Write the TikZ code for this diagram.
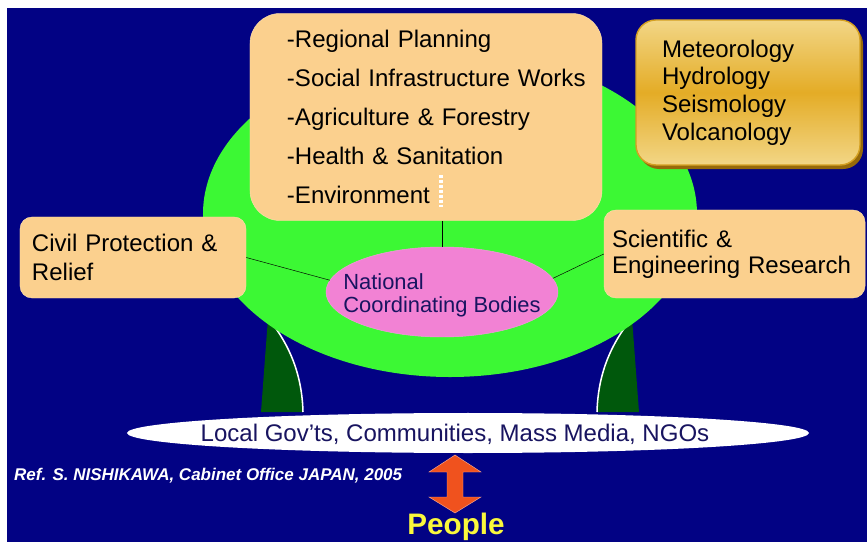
\documentclass[tikz,border=0pt]{standalone}
\usepackage{fontspec}
\setmainfont{Liberation Sans}
\usetikzlibrary{shapes.geometric, shadows, positioning}
\definecolor{navyBg}{RGB}{2,2,132}
\definecolor{blobGreen}{RGB}{60,248,52}
\definecolor{legGreen}{RGB}{0,88,12}
\definecolor{peach}{RGB}{251,208,142}
\definecolor{peachEdge}{RGB}{252,222,170}
\definecolor{goldTop}{RGB}{242,214,134}
\definecolor{goldMid}{RGB}{228,172,38}
\definecolor{goldEdge}{RGB}{212,160,34}
\definecolor{goldShade}{RGB}{150,105,10}
\definecolor{pinkBody}{RGB}{242,130,212}
\definecolor{inkBlue}{RGB}{24,20,96}
\definecolor{arrowRed}{RGB}{240,82,30}
\definecolor{peopleYellow}{RGB}{250,248,60}
\tikzset{
    peachBox/.style={rectangle, rounded corners=0.36cm, fill=peach, draw=peachEdge, thin, align=left, text=black},
    goldBox/.style={rectangle, rounded corners=0.6cm, top color=goldTop, bottom color=goldTop, middle color=goldMid, draw=goldEdge, line width=1.2pt, align=left, text=black,
        drop shadow={shadow xshift=0.09cm, shadow yshift=-0.12cm, fill=goldShade, opacity=1}},
    bodyEllipse/.style={ellipse, fill=pinkBody, draw=pinkBody!80!white, inner sep=0pt},
    linkLine/.style={draw=black, thin},
    legEdge/.style={draw=white, line width=1.3pt},
    dotMark/.style={draw=white, line width=2.6pt, dash pattern=on 2.6pt off 1.6pt},
}
\begin{document}
\begin{tikzpicture}[x=0.03cm, y=-0.03cm]

    % page and background
    \fill[white] (0,0) rectangle (867,542);
    \useasboundingbox (0,0) rectangle (867,542);
    \fill[navyBg] (7,8) rectangle (867,542);

    % legs
    \fill[legGreen] (268,318) -- (261,412) -- (303,412) .. controls (302,375) and (290,345) .. (268,318) -- cycle;
    \draw[legEdge] (303,412) .. controls (302,375) and (290,345) .. (268,318);
    \fill[legGreen] (632,318) -- (639,412) -- (597,412) .. controls (598,375) and (610,345) .. (632,318) -- cycle;
    \draw[legEdge] (597,412) .. controls (598,375) and (610,345) .. (632,318);

    % green body
    \node[ellipse, fill=blobGreen, minimum width=14.82cm, minimum height=9.78cm] (blob) at (450,214) {};

    % boxes
    \node[peachBox, rounded corners=0.9cm, minimum width=10.56cm, minimum height=6.21cm, inner xsep=1.11cm, text width=8.34cm,
        font={\fontsize{20.5}{33.3}\selectfont}] (sectors) at (426,117)
        {\mbox{-Regional Planning}\\\mbox{-Social Infrastructure Works}\\\mbox{-Agriculture \& Forestry}\\\mbox{-Health \& Sanitation}\\\mbox{-Environment}};
    \draw[dotMark] (441,175) -- (441,207);

    \node[peachBox, minimum width=6.78cm, minimum height=2.43cm, inner xsep=0.36cm, text width=6.06cm,
        font={\fontsize{20.5}{24.8}\selectfont}] (civil) at (133,257.5)
        {Civil Protection \&\\Relief};

    \node[peachBox, minimum width=7.83cm, minimum height=2.64cm, inner xsep=0.24cm, text width=7.35cm,
        font={\fontsize{20.5}{22.2}\selectfont}] (research) at (734.5,254)
        {Scientific \&\\Engineering Research};

    \node[goldBox, minimum width=6.72cm, minimum height=4.35cm, inner xsep=0.78cm, text width=5.16cm,
        font={\fontsize{20.5}{23.6}\selectfont}] (sciences) at (748,92.5)
        {Meteorology\\Hydrology\\Seismology\\Volcanology};

    % coordinating bodies
    \node[bodyEllipse, minimum width=6.96cm, minimum height=2.7cm] (ncb) at (442,292) {};
    \node[align=left, text=inkBlue, font={\fontsize{18.7}{19.6}\selectfont}] (ncbText) at (442,295.5)
        {National\\Coordinating Bodies};

    \draw[linkLine] (ncb.north) -- (ncb.north |- sectors.south);
    \draw[linkLine] (civil.east) -- (ncb.174);
    \draw[linkLine] (research.west) -- (ncb.7);

    % local level
    \node[ellipse, fill=white, minimum width=20.46cm, minimum height=1.2cm] (local) at (468,433) {};
    \node[text=inkBlue, font={\fontsize{20.5}{24}\selectfont}] (localText) at (455,434)
        {Local Gov’ts, Communities, Mass Media, NGOs};

    % people
    \node[text=peopleYellow, font={\fontsize{25.3}{30}\selectfont\bfseries}] (people) at (456,527) {People};
    \filldraw[fill=arrowRed, draw=arrowRed!50!white, thin]
        (455,455) -- (481,472) -- (463,472) -- (463,497) -- (481,497) -- (455,513)
        -- (429,497) -- (447,497) -- (447,472) -- (429,472) -- cycle;

    \node[anchor=west, text=white, font={\fontsize{14.5}{17}\selectfont\bfseries\itshape}] (ref) at (10,476)
        {Ref. S. NISHIKAWA, Cabinet Office JAPAN, 2005};

\end{tikzpicture}
\end{document}
